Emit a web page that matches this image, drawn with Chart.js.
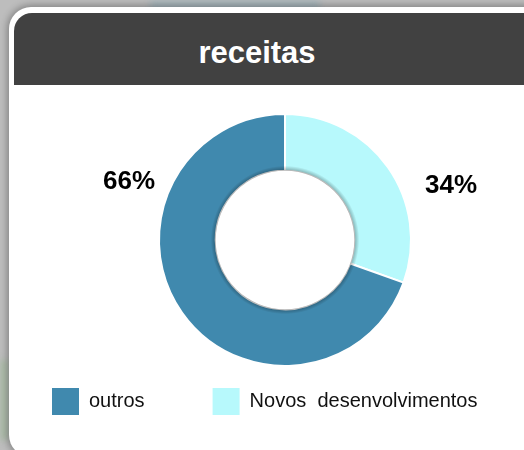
<!DOCTYPE html>
<html>
<head>
<meta charset="utf-8">
<script src="https://cdn.jsdelivr.net/npm/chart.js@4/dist/chart.umd.min.js"></script>
<style>
    html, body {
        margin: 0;
        width: 524px;
        height: 450px;
        overflow: hidden;
        background: #bdbdbd;
        font-family: "Liberation Sans", Arial, sans-serif;
    }
    .backdrop-top {
        position: absolute;
        left: 150px;
        top: 0;
        width: 170px;
        height: 12px;
        background: #a7b6bc;
        filter: blur(3px);
    }
    .backdrop-left {
        position: absolute;
        left: 0;
        top: 360px;
        width: 8px;
        height: 80px;
        background: #a9bba5;
        filter: blur(3px);
    }
    .card {
        position: absolute;
        left: 9px;
        top: 7px;
        width: 560px;
        height: 450px;
        background: #fff;
        border-radius: 22px;
        box-shadow: 0 0 7px 2px rgba(0, 0, 0, 0.3);
    }
    .card h1 {
        position: absolute;
        left: 5px;
        top: 6px;
        width: 550px;
        height: 72px;
        margin: 0;
        box-sizing: border-box;
        padding: 8px 64px 0 0;
        line-height: 64px;
        text-align: center;
        background: #414141;
        color: #fff;
        font-size: 31px;
        font-weight: bold;
        border-radius: 18px 18px 0 0;
    }
    .chart-box {
        position: absolute;
        left: -16px;
        top: 86px;
        width: 602px;
        height: 339px;
    }
</style>
</head>
<body>
<div class="backdrop-top"></div>
<div class="backdrop-left"></div>
<div class="card"><h1>receitas</h1></div>
<div class="chart-box"><canvas id="receitas-chart"></canvas></div>
<script>
const categories = ["Novos  desenvolvimentos", "outros"];
// arc sizes as drawn in the picture, and the percentages printed beside them
const shares = [30.5, 69.5];
const pctTexts = ["34%", "66%"];
const colors = ["#b7f9fc", "#4089ae"];

const canvas = document.querySelector("canvas#receitas-chart");

// soft shadow of the hole falling on the ring
const innerShadow = {
    id: "innerShadow",
    afterDatasetsDraw(chart) {
        const ctx = chart.ctx;
        const arc = chart.getDatasetMeta(0).data[0];
        const { x, y, innerRadius } = arc.getProps(["x", "y", "innerRadius"], true);
        const grad = ctx.createRadialGradient(x, y, innerRadius, x, y, innerRadius + 5);
        grad.addColorStop(0, "rgba(0, 0, 0, 0.3)");
        grad.addColorStop(1, "rgba(0, 0, 0, 0)");
        ctx.save();
        ctx.beginPath();
        ctx.arc(x, y, innerRadius + 5, 0, Math.PI * 2);
        ctx.arc(x, y, innerRadius, 0, Math.PI * 2, true);
        ctx.fillStyle = grad;
        ctx.fill();
        ctx.restore();
    },
};

// percentages written beside the ring
const pctLabels = {
    id: "pctLabels",
    afterDraw(chart) {
        const ctx = chart.ctx;
        chart.getDatasetMeta(0).data.forEach((arc, i) => {
            const { x, y, outerRadius, startAngle, endAngle } = arc.getProps(
                ["x", "y", "outerRadius", "startAngle", "endAngle"],
                true,
            );
            const left = Math.cos((startAngle + endAngle) / 2) < 0;
            ctx.save();
            ctx.font = "bold 26px 'Liberation Sans', Arial, sans-serif";
            ctx.fillStyle = "#000";
            ctx.textAlign = "center";
            ctx.textBaseline = "middle";
            ctx.fillText(
                pctTexts[i],
                left ? x - outerRadius - 30 : x + outerRadius + 40,
                left ? y - 58 : y - 54,
            );
            ctx.restore();
        });
    },
};

const data = {
    labels: categories,
    datasets: [
        {
            data: shares,
            backgroundColor: colors,
            borderColor: "#ffffff",
            borderWidth: 2,
        },
    ],
};

const config = {
    type: "doughnut",
    data: data,
    options: {
        responsive: true,
        maintainAspectRatio: false,
        animation: false,
        radius: 126,
        cutout: "55%",
        layout: { padding: { top: 74, bottom: 0, left: 0, right: 0 } },
        plugins: {
            tooltip: { enabled: false },
            legend: {
                position: "bottom",
                align: "start",
                reverse: true,
                labels: {
                    boxWidth: 27,
                    boxHeight: 27,
                    padding: 68,
                    color: "#111",
                    font: { size: 20, family: "'Liberation Sans', Arial, sans-serif" },
                    generateLabels: (chart) =>
                        Chart.overrides.doughnut.plugins.legend.labels
                            .generateLabels(chart)
                            .map((item) => ({ ...item, lineWidth: 0 })),
                },
            },
        },
    },
    plugins: [innerShadow, pctLabels],
};

const myChart = new Chart(canvas, config);
</script>
</body>
</html>
